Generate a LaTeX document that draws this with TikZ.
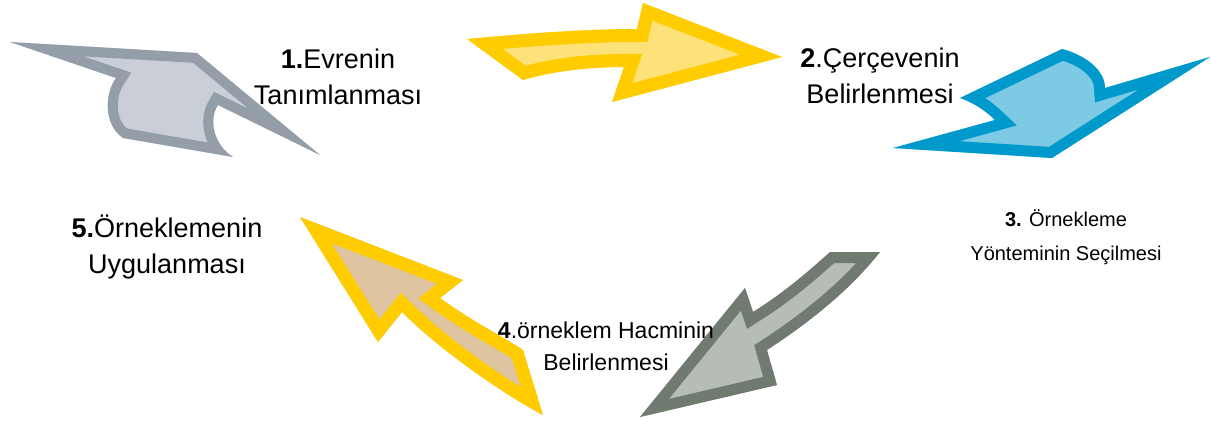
\documentclass[tikz,border=0pt]{standalone}
\usepackage{fontspec}
\setmainfont{Liberation Sans}
\definecolor{greyB}{RGB}{148,158,168}
\definecolor{greyF}{RGB}{201,206,215}
\definecolor{yelB}{RGB}{255,204,0}
\definecolor{yelF}{RGB}{253,226,122}
\definecolor{bluB}{RGB}{0,153,204}
\definecolor{bluF}{RGB}{125,202,228}
\definecolor{dgrB}{RGB}{112,122,112}
\definecolor{dgrF}{RGB}{182,188,182}
\definecolor{tanF}{RGB}{223,196,162}
\newcommand\myarrow[4]{%
  \begin{scope}
    \clip #4;
    \fill[#2] #4;
    \draw[#1, line width=#3, line join=miter] #4;
  \end{scope}}
\tikzset{lbl/.style={align=center, font=\fontsize{27}{36}\selectfont, inner sep=0pt}}
\begin{document}
\begin{tikzpicture}[x=1pt,y=-1pt]
\useasboundingbox (0,0) rectangle (1211,421);
% arrow 1 grey
\myarrow{greyB}{greyF}{20pt}{(10,42) -- (197,53) -- (320,155) -- (218,105) .. controls (208,120) and (214,145) .. (233,157) -- (123,138) .. controls (104,125) and (104,95) .. (116,78) -- cycle}
% arrow 2 yellow
\myarrow{yelB}{yelF}{26pt}{(467,39) .. controls (530,33) and (590,29) .. (637,29) -- (643,3) -- (782,57) -- (612,102) -- (624,67) .. controls (585,67) and (550,72) .. (523,80) -- cycle}
% arrow 3 blue
\myarrow{bluB}{bluF}{22pt}{(960,98) -- (1062,49) .. controls (1085,55) and (1105,70) .. (1105,88) -- (1210,57) -- (1052,158) -- (893,148) -- (995,120) .. controls (985,110) and (972,102) .. (960,98) -- cycle}
% arrow 4 dark grey
\myarrow{dgrB}{dgrF}{22pt}{(830,252) -- (880,252) .. controls (850,290) and (810,322) .. (767,350) -- (777,385) -- (640,417) -- (745,288) -- (753,312) .. controls (785,292) and (810,270) .. (830,252) -- cycle}
% arrow 5 yellow/tan
\myarrow{yelB}{tanF}{26pt}{(300,217) -- (463,280) -- (440,298) .. controls (470,320) and (500,335) .. (523,350) -- (543,415) .. controls (500,392) and (440,350) .. (402,312) -- (378,342) -- cycle}
% labels
\node[lbl] (t1) at (338,77) {\textbf{1.}Evrenin\\Tanımlanması};
\node[lbl] (t2) at (880,76) {\textbf{2}.Çerçevenin\\Belirlenmesi};
\node[lbl, font=\fontsize{20}{34}\selectfont] (t3) at (1066,237) {\textbf{3.} Örnekleme\\Yönteminin Seçilmesi};
\node[lbl, font=\fontsize{23}{32}\selectfont] (t4) at (606,346) {\textbf{4}.örneklem Hacminin\\Belirlenmesi};
\node[lbl] (t5) at (167,247) {\textbf{5.}Örneklemenin\\Uygulanması};
\end{tikzpicture}
\end{document}
